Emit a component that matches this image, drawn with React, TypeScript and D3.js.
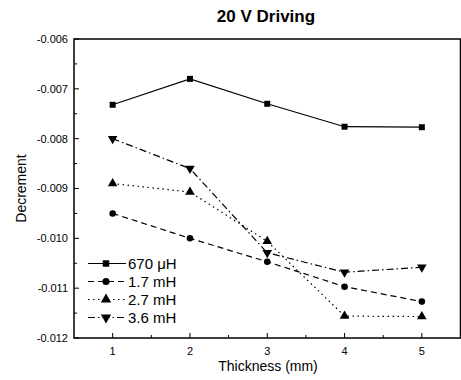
import React, { useRef, useEffect } from 'react';
import * as d3 from 'd3';

const thickness = [1, 2, 3, 4, 5];
const seriesNames = ['670 \u03bcH', '1.7 mH', '2.7 mH', '3.6 mH'];
const s670uH = [-0.00732, -0.0068, -0.0073, -0.00776, -0.00777];
const s17mH = [-0.0095, -0.01, -0.01047, -0.01097, -0.01127];
const s27mH = [-0.0089, -0.00907, -0.01006, -0.01156, -0.01157];
const s36mH = [-0.008, -0.0086, -0.01029, -0.01068, -0.01058];
const yTicks = [-0.006, -0.007, -0.008, -0.009, -0.01, -0.011, -0.012];

const App: React.FC = () => {
  const svgRef = useRef<SVGSVGElement | null>(null);
  const width = 461;
  const height = 380;

  useEffect(() => {
    const margin = { top: 39, right: 1, bottom: 42, left: 74 };
    const svg = d3.select(svgRef.current)
      .attr('width', width)
      .attr('height', height)
      .style('display', 'block')
      .style('font-family', 'Arial, "Liberation Sans", sans-serif');

    const x = d3.scaleLinear().domain([0.5, 5.5]).range([margin.left, 460.5]);
    const y = d3.scaleLinear().domain([-0.012, -0.006]).range([height - margin.bottom, margin.top]);

    const allSeries = [s670uH, s17mH, s27mH, s36mH];
    const dashes = [null, '6,4', '1.5,3.5', '7,3,1.5,3'];
    const symbols = [d3.symbolSquare, d3.symbolCircle, d3.symbolTriangle, d3.symbolTriangle];
    const symSize = [36, 34, 40, 40];
    const rotate = [0, 0, 0, 180];

    // frame
    svg.append('rect')
      .attr('x', x(0.5)).attr('y', y(-0.006))
      .attr('width', x(5.5) - x(0.5)).attr('height', y(-0.012) - y(-0.006))
      .attr('fill', 'none').attr('stroke', '#000').attr('stroke-width', 1.5);

    // y ticks (inside)
    const yMinor = d3.range(-0.0115, -0.006, 0.001);
    svg.append('g').selectAll('line.maj').data(yTicks).join('line')
      .attr('x1', x(0.5)).attr('x2', x(0.5) + 5)
      .attr('y1', d => y(d)).attr('y2', d => y(d))
      .attr('stroke', '#000');
    svg.append('g').selectAll('line.min').data(yMinor).join('line')
      .attr('x1', x(0.5)).attr('x2', x(0.5) + 3)
      .attr('y1', d => y(d)).attr('y2', d => y(d))
      .attr('stroke', '#000');
    svg.append('g').selectAll('text').data(yTicks).join('text')
      .attr('x', x(0.5) - 6).attr('y', d => y(d)).attr('dy', '0.35em')
      .attr('text-anchor', 'end').attr('font-size', 11)
      .text(d => d3.format('.3f')(d).replace('\u2212', '-'));

    // x ticks (inside)
    const xMinor = d3.range(1.5, 5, 1);
    svg.append('g').selectAll('line').data(thickness).join('line')
      .attr('x1', d => x(d)).attr('x2', d => x(d))
      .attr('y1', y(-0.012)).attr('y2', y(-0.012) - 5)
      .attr('stroke', '#000');
    svg.append('g').selectAll('line').data(xMinor).join('line')
      .attr('x1', d => x(d)).attr('x2', d => x(d))
      .attr('y1', y(-0.012)).attr('y2', y(-0.012) - 3)
      .attr('stroke', '#000');
    svg.append('g').selectAll('text').data(thickness).join('text')
      .attr('x', d => x(d)).attr('y', y(-0.012) + 17)
      .attr('text-anchor', 'middle').attr('font-size', 11)
      .text(d => d);

    const line = d3.line<number>()
      .x((_, i) => x(thickness[i]))
      .y(d => y(d));

    allSeries.forEach((s, k) => {
      svg.append('path')
        .attr('d', line(s))
        .attr('fill', 'none').attr('stroke', '#000').attr('stroke-width', 1.2)
        .attr('stroke-dasharray', dashes[k]);
      svg.append('g').selectAll('path').data(s).join('path')
        .attr('d', d3.symbol(symbols[k], symSize[k])())
        .attr('transform', (d, i) => `translate(${x(thickness[i])},${y(d)}) rotate(${rotate[k]})`)
        .attr('fill', '#000');
    });

    // legend
    const legendY = [263.5, 281.5, 299.5, 317.5];
    const lg = svg.append('g');
    seriesNames.forEach((name, k) => {
      const ly = legendY[k];
      lg.append('line')
        .attr('x1', 88).attr('x2', 126).attr('y1', ly).attr('y2', ly)
        .attr('stroke', '#000').attr('stroke-width', 1.2)
        .attr('stroke-dasharray', dashes[k]);
      lg.append('path')
        .attr('d', d3.symbol(symbols[k], symSize[k] + 6)())
        .attr('transform', `translate(106,${ly}) rotate(${rotate[k]})`)
        .attr('fill', '#000');
      lg.append('text')
        .attr('x', 128).attr('y', ly).attr('dy', '0.35em')
        .attr('font-size', 15).text(name);
    });

    // titles
    svg.append('text')
      .attr('x', 266).attr('y', 22)
      .attr('text-anchor', 'middle').attr('font-size', 17).attr('font-weight', 'bold')
      .text('20 V Driving');
    svg.append('text')
      .attr('x', 268).attr('y', 371)
      .attr('text-anchor', 'middle').attr('font-size', 14)
      .text('Thickness (mm)');
    svg.append('text')
      .attr('transform', `translate(26,${(y(-0.006) + y(-0.012)) / 2}) rotate(-90)`)
      .attr('text-anchor', 'middle').attr('font-size', 14)
      .text('Decrement');

    return () => {
      svg.selectAll('*').remove();
    };
  }, []);

  return <svg ref={svgRef} style={{ position: 'absolute', left: 0, top: 0 }}></svg>;
};

export default App;
